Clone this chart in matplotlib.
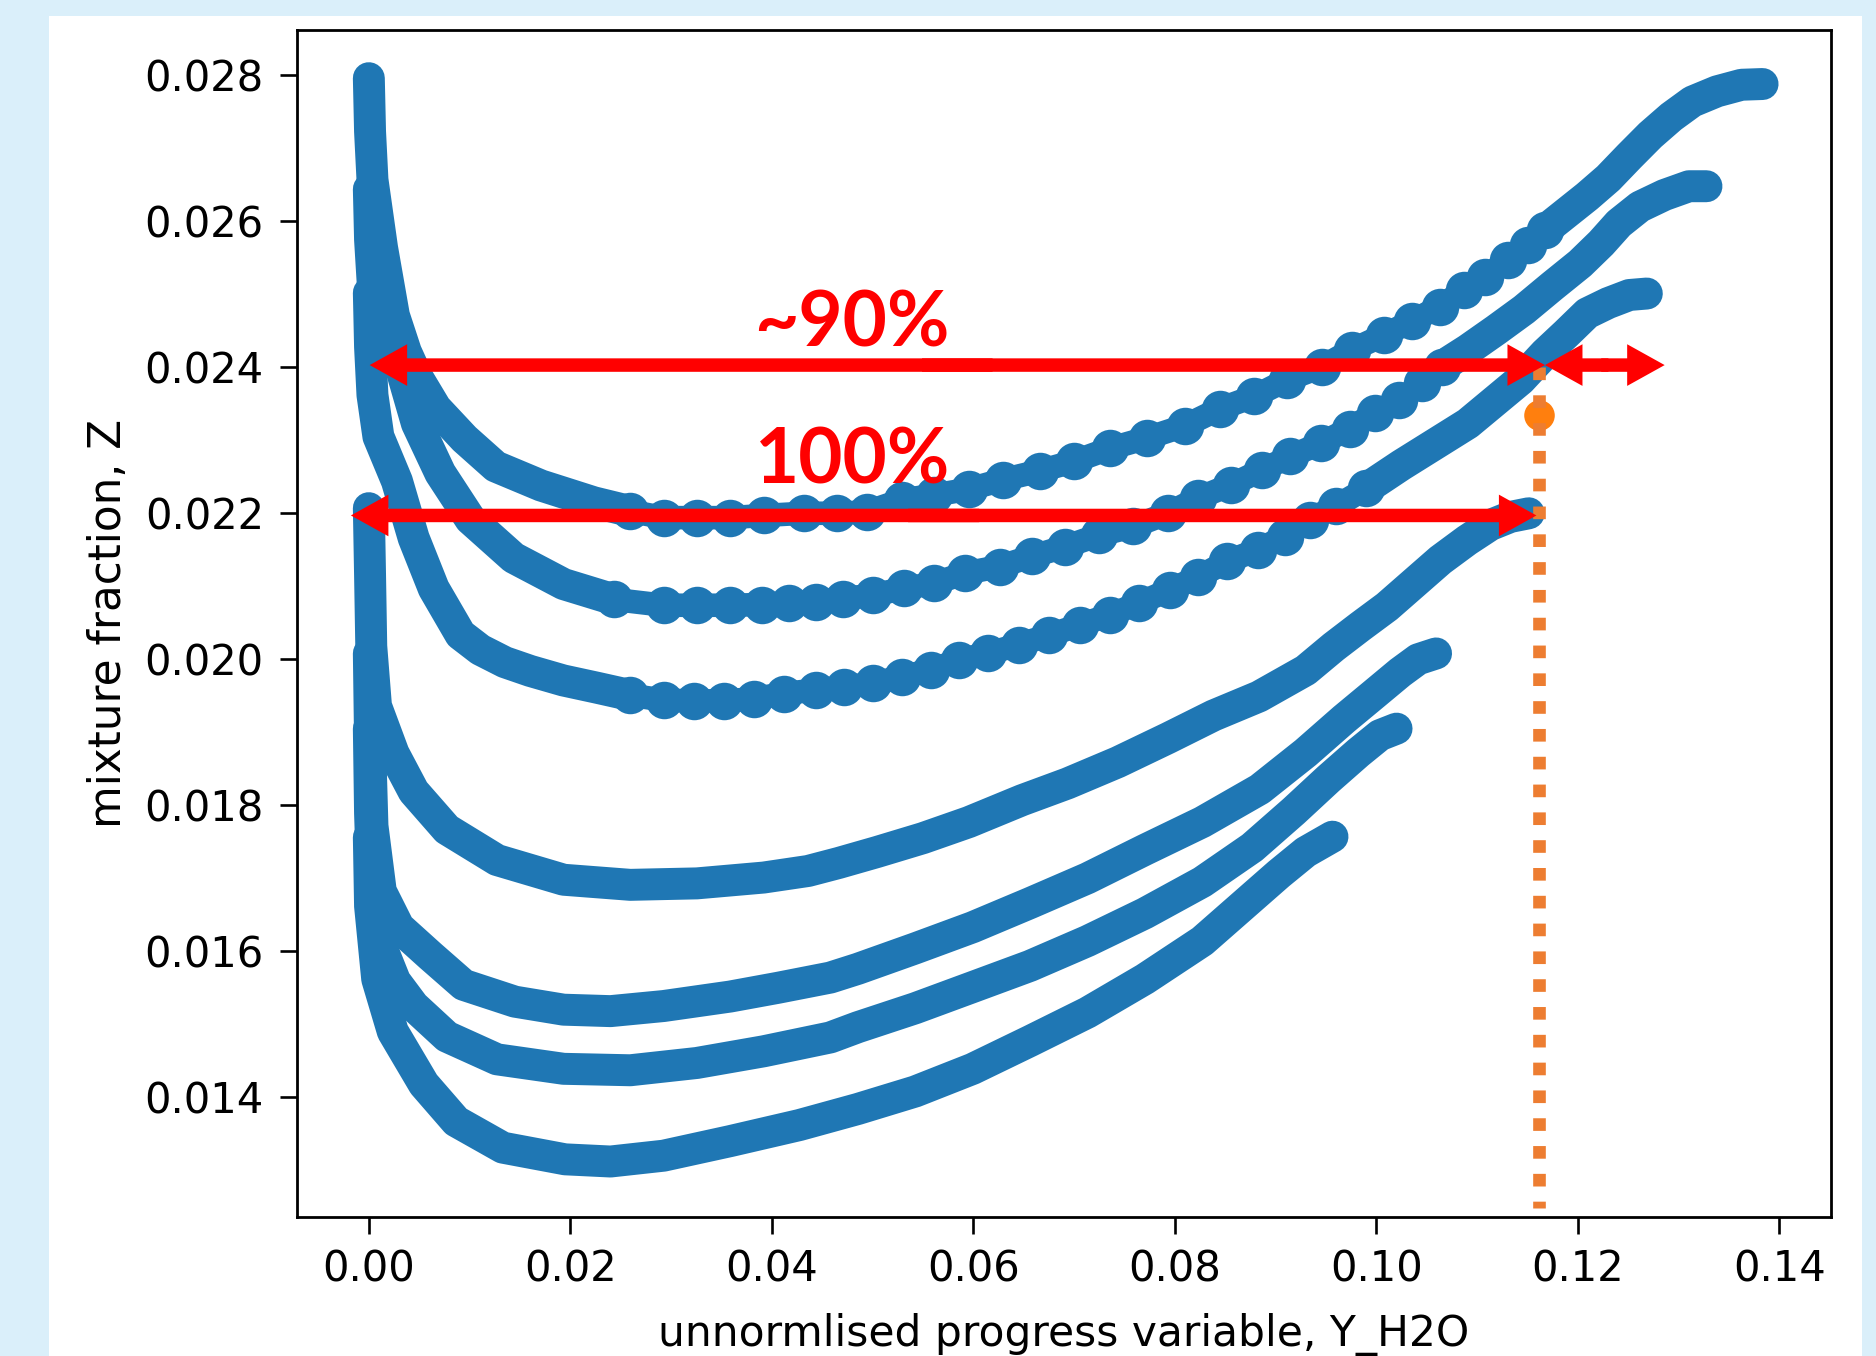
import matplotlib
matplotlib.use("Agg")
import matplotlib.pyplot as plt
from matplotlib.patches import Rectangle

# Seven trajectories: unnormalised progress variable Y_H2O (x) vs mixture fraction Z
a_x = [0.0, 0.00012, 0.00036, 0.00131, 0.00249, 0.00368, 0.00487, 0.00665, 0.00950, 0.01259,
       0.01710, 0.02233, 0.02589, 0.02926, 0.03256, 0.03588, 0.03919, 0.04316, 0.04645, 0.04949,
       0.05291, 0.05614, 0.05956, 0.06297, 0.06658, 0.07000, 0.07361, 0.07722, 0.08102, 0.08444,
       0.08786, 0.09116, 0.09464, 0.09760, 0.10073, 0.10352, 0.10630, 0.10875, 0.11083, 0.11310,
       0.11501, 0.11675, 0.11884, 0.12093, 0.12302, 0.12511, 0.12720, 0.12928, 0.13137, 0.13382,
       0.13625, 0.13834]
a_z = [0.02796, 0.02723, 0.02657, 0.02564, 0.02471, 0.02421, 0.02385, 0.02344, 0.02302, 0.02264,
       0.02238, 0.02215, 0.02203, 0.02194, 0.02194, 0.02194, 0.02197, 0.02200, 0.02200, 0.02202,
       0.02218, 0.02225, 0.02233, 0.02246, 0.02258, 0.02271, 0.02289, 0.02303, 0.02320, 0.02343,
       0.02360, 0.02383, 0.02401, 0.02424, 0.02444, 0.02463, 0.02483, 0.02506, 0.02524, 0.02547,
       0.02568, 0.02588, 0.02611, 0.02634, 0.02659, 0.02689, 0.02718, 0.02743, 0.02764, 0.02778,
       0.02787, 0.02788]

b_x = [0.0, 0.00012, 0.00048, 0.00095, 0.00312, 0.00477, 0.00709, 0.01007, 0.01437, 0.01933,
       0.02430, 0.02926, 0.03254, 0.03588, 0.03907, 0.04170, 0.04436, 0.04702, 0.05006, 0.05310,
       0.05614, 0.05918, 0.06260, 0.06582, 0.06905, 0.07247, 0.07589, 0.07931, 0.08235, 0.08558,
       0.08862, 0.09147, 0.09451, 0.09736, 0.09982, 0.10230, 0.10457, 0.10648, 0.10909, 0.11188,
       0.11466, 0.11745, 0.12023, 0.12232, 0.12407, 0.12616, 0.12859, 0.13103, 0.13277]
b_z = [0.02644, 0.02575, 0.02493, 0.02469, 0.02402, 0.02323, 0.02255, 0.02192, 0.02139, 0.02103,
       0.02082, 0.02074, 0.02074, 0.02074, 0.02075, 0.02077, 0.02079, 0.02083, 0.02088, 0.02097,
       0.02104, 0.02118, 0.02127, 0.02141, 0.02154, 0.02170, 0.02182, 0.02200, 0.02221, 0.02239,
       0.02259, 0.02278, 0.02296, 0.02316, 0.02337, 0.02355, 0.02378, 0.02401, 0.02424, 0.02451,
       0.02479, 0.02511, 0.02542, 0.02570, 0.02597, 0.02620, 0.02636, 0.02648, 0.02648]

c_x = [0.0, 0.00012, 0.00036, 0.00095, 0.00279, 0.00445, 0.00644, 0.00909, 0.01107, 0.01350,
       0.01603, 0.01930, 0.02265, 0.02589, 0.02926, 0.03230, 0.03527, 0.03824, 0.04121, 0.04436,
       0.04721, 0.05006, 0.05291, 0.05576, 0.05861, 0.06146, 0.06449, 0.06753, 0.07057, 0.07361,
       0.07646, 0.07950, 0.08235, 0.08520, 0.08824, 0.09090, 0.09337, 0.09603, 0.09900, 0.10248,
       0.10596, 0.10909, 0.11188, 0.11432, 0.11675, 0.11884, 0.12093, 0.12302, 0.12511, 0.12685]
c_z = [0.02502, 0.02428, 0.02362, 0.02305, 0.02244, 0.02166, 0.02097, 0.02034, 0.02013, 0.01996,
       0.01984, 0.01971, 0.01961, 0.01951, 0.01944, 0.01943, 0.01943, 0.01946, 0.01953, 0.01958,
       0.01962, 0.01967, 0.01976, 0.01985, 0.01999, 0.02008, 0.02020, 0.02033, 0.02047, 0.02061,
       0.02077, 0.02095, 0.02113, 0.02134, 0.02150, 0.02168, 0.02191, 0.02210, 0.02234, 0.02266,
       0.02296, 0.02323, 0.02355, 0.02383, 0.02419, 0.02446, 0.02474, 0.02488, 0.02499, 0.02501]

d_x = [0.0, 0.00012, 0.00024, 0.00071, 0.00246, 0.00445, 0.00775, 0.01272, 0.01933, 0.02595,
       0.03256, 0.03919, 0.04360, 0.04664, 0.05044, 0.05500, 0.05956, 0.06484, 0.06936, 0.07434,
       0.07933, 0.08384, 0.08836, 0.09299, 0.09577, 0.09842, 0.10106, 0.10371, 0.10636, 0.10901,
       0.11133, 0.11331, 0.11513]
d_z = [0.02207, 0.02116, 0.02018, 0.01936, 0.01871, 0.01819, 0.01767, 0.01725, 0.01698, 0.01691,
       0.01693, 0.01701, 0.01710, 0.01721, 0.01736, 0.01755, 0.01777, 0.01807, 0.01830, 0.01859,
       0.01892, 0.01923, 0.01949, 0.01985, 0.02017, 0.02045, 0.02072, 0.02104, 0.02136, 0.02163,
       0.02184, 0.02195, 0.02200]

e_x = [0.0, 0.00012, 0.00036, 0.00119, 0.00297, 0.00610, 0.00941, 0.01449, 0.01933, 0.02399,
       0.02926, 0.03587, 0.04062, 0.04581, 0.04854, 0.05424, 0.05994, 0.06563, 0.07133, 0.07703,
       0.08273, 0.08843, 0.09299, 0.09679, 0.09976, 0.10237, 0.10415, 0.10593]
e_z = [0.02008, 0.01887, 0.01772, 0.01682, 0.01633, 0.01594, 0.01554, 0.01531, 0.01520, 0.01518,
       0.01525, 0.01538, 0.01550, 0.01564, 0.01576, 0.01604, 0.01633, 0.01666, 0.01700, 0.01739,
       0.01777, 0.01822, 0.01872, 0.01918, 0.01952, 0.01982, 0.02000, 0.02008]

f_x = [0.0, 0.00012, 0.00036, 0.00119, 0.00261, 0.00445, 0.00775, 0.01272, 0.01933, 0.02595,
       0.03256, 0.03919, 0.04581, 0.04854, 0.05424, 0.05994, 0.06563, 0.07133, 0.07703, 0.08273,
       0.08767, 0.09180, 0.09524, 0.09821, 0.10035, 0.10201]
f_z = [0.01905, 0.01789, 0.01690, 0.01608, 0.01559, 0.01525, 0.01483, 0.01452, 0.01439, 0.01437,
       0.01447, 0.01463, 0.01482, 0.01496, 0.01522, 0.01551, 0.01580, 0.01614, 0.01652, 0.01695,
       0.01742, 0.01792, 0.01836, 0.01872, 0.01896, 0.01905]

g_x = [0.0, 0.00012, 0.00083, 0.00238, 0.00546, 0.00867, 0.01330, 0.01948, 0.02399, 0.02926,
       0.03588, 0.04275, 0.04854, 0.05424, 0.05994, 0.06563, 0.07133, 0.07703, 0.08273, 0.08653,
       0.09033, 0.09299, 0.09565]
g_z = [0.01756, 0.01662, 0.01562, 0.01490, 0.01418, 0.01367, 0.01331, 0.01315, 0.01312, 0.01320,
       0.01340, 0.01362, 0.01384, 0.01408, 0.01439, 0.01477, 0.01516, 0.01562, 0.01614, 0.01660,
       0.01706, 0.01736, 0.01757]

curves = [(a_x, a_z), (b_x, b_z), (c_x, c_z), (d_x, d_z), (e_x, e_z), (f_x, f_z), (g_x, g_z)]
# index range of each curve where the samples are spread apart and show as separate dots
bead_spans = [(12, 41), (10, 37), (13, 38), None, None, None, None]

# marked point and its dotted drop line
point_x = 0.11615
point_z = 0.02334
drop_z = [0.02400, 0.01248]

# annotation arrows: (x start, x end, z level) and labels
arrows = [(0.00008, 0.11674, 0.02403), (0.11674, 0.12862, 0.02403), (-0.00178, 0.11589, 0.02197)]
labels = ["~90%", "100%"]
label_x = [0.04792, 0.04804]
label_z = [0.02428, 0.02241]

x_ticks = [0.00, 0.02, 0.04, 0.06, 0.08, 0.10, 0.12, 0.14]
x_ticklabels = ["0.00", "0.02", "0.04", "0.06", "0.08", "0.10", "0.12", "0.14"]
z_ticks = [0.014, 0.016, 0.018, 0.020, 0.022, 0.024, 0.026, 0.028]
z_ticklabels = ["0.014", "0.016", "0.018", "0.020", "0.022", "0.024", "0.026", "0.028"]

blue = "#1f77b4"
band_lw = 23     # dense stretches look like a solid band
bead_ms = 27     # single dot size
neck_lw = 17

fig = plt.figure(figsize=(18.76, 13.56), dpi=100, facecolor="#daeffa")
fig.patches.append(Rectangle((49 / 1876, 0), (1862 - 49) / 1876, 1 - 16 / 1356,
                             transform=fig.transFigure, facecolor="white",
                             edgecolor="none", zorder=-10))
ax = fig.add_axes([297 / 1876, 139 / 1356, 1534 / 1876, 1187 / 1356])
ax.set_zorder(1)

band_kw = dict(color=blue, lw=band_lw, solid_capstyle="round", solid_joinstyle="round", zorder=2)
for (cx, cz), span in zip(curves, bead_spans):
    if span is None:
        ax.plot(cx, cz, **band_kw)
        continue
    s, e = span
    ax.plot(cx[:s + 1], cz[:s + 1], **band_kw)
    ax.plot(cx[e:], cz[e:], **band_kw)
    ax.plot(cx[s:e + 1], cz[s:e + 1], color=blue, lw=neck_lw, marker="o", ms=bead_ms,
            mew=0, zorder=2)

ax.scatter([point_x], [point_z], s=22 ** 2, color="#ff7f0e", linewidths=0, zorder=3)
ax.plot([point_x, point_x], drop_z, color="#ed7d31", lw=9.1,
        linestyle=(0, (1, 1.2)), zorder=4)


def double_arrow(x0, x1, z):
    # two filled arrows from the middle outwards, slightly overlapping
    mid = (x0 + x1) / 2
    ov = (x1 - x0) * 0.03
    style = "simple,head_length=27,head_width=30,tail_width=9.7"
    for start, end in ((mid - ov, x1), (mid + ov, x0)):
        ax.annotate("", xy=(end, z), xytext=(start, z), zorder=5,
                    arrowprops=dict(arrowstyle=style, mutation_scale=1, color="red",
                                    lw=0, shrinkA=0, shrinkB=0))


for x0, x1, z in arrows:
    double_arrow(x0, x1, z)

for txt, tx, tz in zip(labels, label_x, label_z):
    ax.text(tx, tz, txt, color="red", fontsize=55, fontweight="bold", family=["Lato", "DejaVu Sans"],
            ha="center", va="baseline", zorder=6)

ax.set_xlim(-0.00713, 0.14513)
ax.set_ylim(0.01236, 0.02862)
ax.set_xticks(x_ticks)
ax.set_xticklabels(x_ticklabels)
ax.set_yticks(z_ticks)
ax.set_yticklabels(z_ticklabels)
ax.tick_params(axis="both", labelsize=30, length=11.9, width=1.9)
ax.tick_params(axis="x", pad=11)
ax.tick_params(axis="y", pad=12)
for sp in ax.spines.values():
    sp.set_linewidth(2.0)

ax.set_xlabel("unnormlised progress variable, Y_H2O", fontsize=30.5)
ax.xaxis.set_label_coords(0.5, -0.0805)
ax.set_ylabel("mixture fraction, Z", fontsize=31.5)
ax.yaxis.set_label_coords(-0.109, 0.5)

fig.savefig("out.png", dpi=100, facecolor=fig.get_facecolor())
